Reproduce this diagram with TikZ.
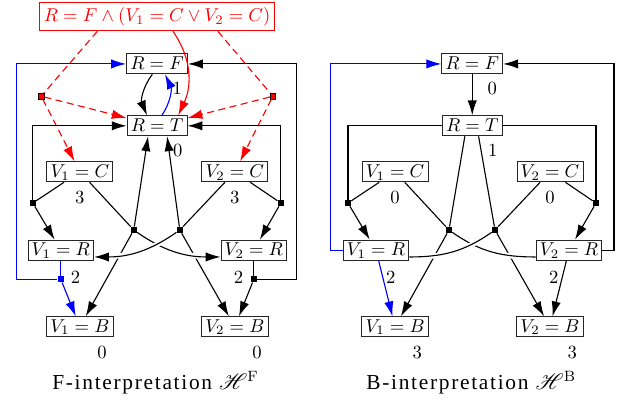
\documentclass[tikz,border=0pt]{standalone}
\usepackage{fontspec}
\usepackage{mathrsfs}
\newfontfamily\capfont{Liberation Serif}[LetterSpace=8]
\usetikzlibrary{positioning, arrows.meta, calc}

\begin{document}
\begin{tikzpicture}[
  >={Latex[length=8pt, width=5pt]},
  line width=0.6pt,
  % Vertices (boxes)
  state/.style={rectangle, draw=black!85, line width=0.5pt, inner xsep=2pt, inner ysep=1.4pt, text height=1.6ex, text depth=0.25ex},
  goal/.style={rectangle, draw=red, text=red, line width=0.5pt, inner sep=2.5pt},
  % Hyperedge junctions (small squares)
  hub/.style={rectangle, fill=black, inner sep=0pt, minimum size=3pt},
  bluehub/.style={hub, fill=blue},
  goalhub/.style={hub, fill=red, draw=black, line width=0.3pt},
  % Values and captions
  weight/.style={inner sep=0pt},
  capt/.style={font=\fontsize{11.5}{14}\capfont},
  goalarc/.style={red, dash pattern=on 3.8pt off 2.4pt},
  overpass/.style={preaction={draw=white, -, line width=2.8pt, shorten <=2.2pt, shorten >=2pt}}
  ]
  \useasboundingbox (0,0) rectangle (11.743,7.659);

  % --- F-interpretation: vertices ---
  \node[goal] (Cond) at (2.97,7.34) {$R=F \wedge (V_1=C \vee V_2=C)$};
  \node[state] (RF) at (2.97,6.45) {$R=F$};
  \node[state] (RT) at (2.97,5.28) {$R=T$};
  \node[state] (V1C) at (1.51,4.41) {$V_1=C$};
  \node[state] (V2C) at (4.44,4.41) {$V_2=C$};
  \node[state] (V1R) at (1.15,2.93) {$V_1=R$};
  \node[state] (V2R) at (4.80,2.93) {$V_2=R$};
  \node[state] (V1B) at (1.51,1.48) {$V_1=B$};
  \node[state] (V2B) at (4.44,1.48) {$V_2=B$};

  \node[weight] (wRF) at ($(RF)+(0.38,-0.47)$) {1};
  \node[weight] (wRT) at ($(RT)+(0.39,-0.47)$) {0};
  \node[weight] (wV1C) at ($(V1C)+(0,-0.49)$) {3};
  \node[weight] (wV2C) at ($(V2C)+(0,-0.49)$) {3};
  \node[weight] (wV1R) at ($(V1R)+(0.28,-0.51)$) {2};
  \node[weight] (wV2R) at ($(V2R)+(-0.29,-0.51)$) {2};
  \node[weight] (wV1B) at ($(V1B)+(0.42,-0.49)$) {0};
  \node[weight] (wV2B) at ($(V2B)+(0.42,-0.49)$) {0};

  \node[capt] (CapF) at (2.94,0.42) {F-interpretation $\mathscr{H}^{\mathrm{F}}$};

  % --- F-interpretation: junctions ---
  \node[goalhub] (GL) at (0.78,5.84) {};
  \node[goalhub] (GR) at (5.16,5.84) {};
  \node[hub] (HoL) at (0.62,3.82) {};
  \node[hub] (HoR) at (5.31,3.82) {};
  \node[hub] (HcL) at (2.53,3.31) {};
  \node[hub] (HcR) at (3.40,3.31) {};
  \node[bluehub] (HbL) at (1.15,2.38) {};
  \node[hub] (HbR) at (4.80,2.38) {};

  % Goal condition
  \draw[goalarc] ([xshift=-1.13cm]Cond.south) -- (GL);
  \draw[goalarc, ->] (GL) -- (RT);
  \draw[goalarc, ->] (GL) -- (V1C);
  \draw[goalarc] ([xshift=1.15cm]Cond.south) -- (GR);
  \draw[goalarc, ->] (GR) -- (RT);
  \draw[goalarc, ->] (GR) -- (V2C);
  \draw[red, ->] ([xshift=0.3cm]Cond.south) to[out=-55, in=65] ([xshift=0.4cm]RT.north);

  % R=F <-> R=T
  \draw[->] ([xshift=-0.09cm]RF.south) to[bend right=30] ([xshift=-0.19cm]RT.north);
  \draw[blue, ->] ([xshift=0.09cm]RT.north) to[bend right=30] ([xshift=0.15cm]RF.south);

  % Outer hyperedges from V1=C and V2=C
  \draw (V1C) -- (HoL);
  \draw[->] (HoL) |- (RT.west);
  \draw[->] (HoL) -- (V1R);
  \draw (V2C) -- (HoR);
  \draw[->] (HoR) |- (RT.east);
  \draw[->] (HoR) -- (V2R);

  % Inner hyperedges from V1=C and V2=C
  \draw (V1C) -- (HcL);
  \draw[->] (HcL) -- ([xshift=-0.17cm]RT.south);
  \draw[->] (HcL) -- (V1B);
  \draw (V2C) -- (HcR);
  \draw[->] (HcR) -- ([xshift=0.19cm]RT.south);
  \draw[->] (HcR) -- (V2B);
  \draw[overpass, ->] (HcL) to[out=-35, in=180] ([yshift=-0.13cm]V2R.west);
  \draw[overpass, ->] (HcR) to[out=-145, in=0] ([yshift=-0.13cm]V1R.east);

  % Hyperedges from V1=R and V2=R
  \draw[blue] (V1R) -- (HbL);
  \draw[blue, ->] (HbL) -- ++(-0.83,0) |- (RF.west);
  \draw[blue, ->] (HbL) -- (V1B);
  \draw (V2R) -- (HbR);
  \draw[->] (HbR) -- ++(0.80,0) |- (RF.east);
  \draw[->] (HbR) -- (V2B);

  % --- B-interpretation ---
  \begin{scope}[xshift=5.96cm]
    \node[state] (bRF) at (2.97,6.45) {$R=F$};
    \node[state] (bRT) at (2.97,5.28) {$R=T$};
    \node[state] (bV1C) at (1.51,4.41) {$V_1=C$};
    \node[state] (bV2C) at (4.44,4.41) {$V_2=C$};
    \node[state] (bV1R) at (1.15,2.93) {$V_1=R$};
    \node[state] (bV2R) at (4.80,2.93) {$V_2=R$};
    \node[state] (bV1B) at (1.51,1.48) {$V_1=B$};
    \node[state] (bV2B) at (4.44,1.48) {$V_2=B$};

    \node[weight] (wbRF) at ($(bRF)+(0.38,-0.47)$) {0};
    \node[weight] (wbRT) at ($(bRT)+(0.39,-0.47)$) {1};
    \node[weight] (wbV1C) at ($(bV1C)+(0,-0.49)$) {0};
    \node[weight] (wbV2C) at ($(bV2C)+(0,-0.49)$) {0};
    \node[weight] (wbV1R) at ($(bV1R)+(0.28,-0.51)$) {2};
    \node[weight] (wbV2R) at ($(bV2R)+(-0.29,-0.51)$) {2};
    \node[weight] (wbV1B) at ($(bV1B)+(0.42,-0.49)$) {3};
    \node[weight] (wbV2B) at ($(bV2B)+(0.42,-0.49)$) {3};

    \node[capt] (CapB) at (2.95,0.42) {B-interpretation $\mathscr{H}^{\mathrm{B}}$};

    \node[hub] (bHoL) at (0.62,3.82) {};
    \node[hub] (bHoR) at (5.31,3.82) {};
    \node[hub] (bHcL) at (2.53,3.31) {};
    \node[hub] (bHcR) at (3.40,3.31) {};

    \draw[->] (bRF) -- (bRT);

    \draw (bRT.west) -| (bHoL);
    \draw (bV1C) -- (bHoL);
    \draw[->] (bHoL) -- (bV1R);
    \draw (bRT.east) -| (bHoR);
    \draw (bV2C) -- (bHoR);
    \draw[->] (bHoR) -- (bV2R);

    \draw (bV1C) -- (bHcL);
    \draw ([xshift=-0.14cm]bRT.south) -- (bHcL);
    \draw[->] (bHcL) -- (bV1B);
    \draw (bV2C) -- (bHcR);
    \draw ([xshift=0.12cm]bRT.south) -- (bHcR);
    \draw[->] (bHcR) -- (bV2B);
    \draw[overpass] ([yshift=-0.13cm]bV2R.west) to[out=180, in=-35] (bHcL);
    \draw[overpass] ([yshift=-0.13cm]bV1R.east) to[out=0, in=-145] (bHcR);

    \draw[blue, ->] (bV1R.west) -- ++(-0.23,0) |- (bRF.west);
    \draw[blue, ->] (bV1R) -- (bV1B);
    \draw[->] (bV2R.east) -- ++(0.22,0) |- (bRF.east);
    \draw[->] (bV2R) -- (bV2B);
  \end{scope}

\end{tikzpicture}
\end{document}
